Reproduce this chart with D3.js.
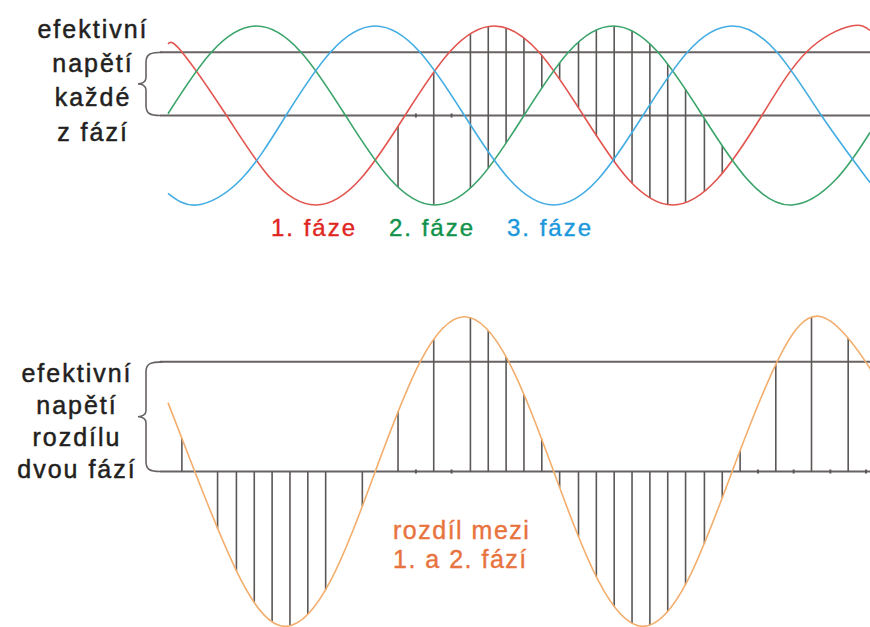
<!DOCTYPE html>
<html>
<head>
<meta charset="utf-8">
<script src="https://cdn.jsdelivr.net/npm/d3@7"></script>
<style>
  body { margin: 0; background: #fff; }
  text { font-family: "Liberation Sans", Arial, sans-serif; }
</style>
</head>
<body>
<script>
// phase angle (deg) -> voltage in units of one phase's peak
const phase1 = [[0, 0.80], [14, 0.71], [59, 0], [104, -0.71], [149, -1], [194, -0.71], [239, 0], [284, 0.71], [329, 1], [374, 0.71], [419, 0], [464, -0.71], [509, -1], [554, -0.71], [599, 0], [644, 0.71], [689, 1], [708, 0.95]];
const phase2 = [[0, 0.02], [44, 0.71], [89, 1], [134, 0.71], [179, 0], [224, -0.71], [269, -1], [314, -0.71], [359, 0], [404, 0.71], [449, 1], [494, 0.71], [539, 0], [584, -0.71], [629, -1], [674, -0.71], [708, -0.19]];
const phase3 = [[0, -0.87], [29, -1], [74, -0.71], [119, 0], [164, 0.71], [209, 1], [254, 0.71], [299, 0], [344, -0.71], [389, -1], [434, -0.71], [479, 0], [524, 0.71], [569, 1], [614, 0.71], [659, 0], [708, -0.75]];
const diff12 = [[0, 0.77], [27, 0], [74, -1.22], [119, -1.73], [164, -1.22], [209, 0], [254, 1.22], [299, 1.73], [344, 1.22], [389, 0], [434, -1.22], [479, -1.73], [524, -1.22], [569, 0], [614, 1.22], [659, 1.73], [704, 1.22], [708, 1.14]];

const rmsPhase = 0.707;
const rmsDiff = 1.225;

// hatch columns (deg)
const topHatch = [232, 268, 305, 323, 341, 359, 377, 395, 414, 432, 450, 468, 486, 504, 522, 541, 559];
const bottomHatch = [14, 50, 69, 87, 105, 123, 141, 159, 196, 232, 268, 305, 323, 341, 359, 377, 395, 414, 432, 450, 468, 486, 504, 522, 541, 559, 577, 613, 649, 686];
const stubs = [250, 286, 595, 631, 668, 704];

const phaseLabels = ["1. fáze", "2. fáze", "3. fáze"];
const phaseColors = ["#e2544e", "#3aa46a", "#43ade3"];
const labelColors = ["#e0261e", "#10924a", "#1b98dc"];
const topLabel = ["efektivní", "napětí", "každé", "z fází"];
const bottomLabel = ["efektivní", "napětí", "rozdílu", "dvou fází"];
const diffLabel = ["rozdíl mezi", "1. a 2. fází"];

var width = 870, height = 627;
var svg = d3.select("body").append("svg")
    .attr("width", width)
    .attr("height", height);

var x = d3.scaleLinear().domain([0, 708]).range([168, 870]);
var yTop = d3.scaleLinear().domain([-1, 1]).range([205, 26]);
var yBot = d3.scaleLinear().domain([-1.732, 1.732]).range([626.5, 316.5]);

var lineColor = "#676362", hatchColor = "#5b5756";

function yAtX(node, px) {
    var lo = 0, hi = node.getTotalLength();
    for (var i = 0; i < 40; i++) {
        var mid = (lo + hi) / 2;
        if (node.getPointAtLength(mid).x < px) lo = mid; else hi = mid;
    }
    return node.getPointAtLength((lo + hi) / 2).y;
}

function brace(y1, y2) {
    var ym = (y1 + y2) / 2;
    return "M163," + y1 + " C150," + y1 + " 146," + (y1 + 2) + " 146," + (y1 + 10) +
        " L146," + (ym - 6) + " C146," + (ym - 2) + " 142," + ym + " 138," + ym +
        " C142," + ym + " 146," + (ym + 2) + " 146," + (ym + 6) +
        " L146," + (y2 - 10) + " C146," + (y2 - 2) + " 150," + y2 + " 160," + y2;
}

// ---------- top panel ----------
var gTop = svg.append("g");
[0, rmsPhase].forEach(function (v) {
    gTop.append("line")
        .attr("x1", 160).attr("x2", 870)
        .attr("y1", yTop(v)).attr("y2", yTop(v))
        .attr("stroke", lineColor).attr("stroke-width", 2);
});
gTop.append("path")
    .attr("d", brace(yTop(rmsPhase), yTop(0)))
    .attr("fill", "none").attr("stroke", lineColor).attr("stroke-width", 1.6);

var lineTop = d3.line()
    .x(function (d) { return x(d[0]); })
    .y(function (d) { return yTop(d[1]); })
    .curve(d3.curveNatural);

var hatchTop = gTop.append("g");
var curves = [phase1, phase2, phase3].map(function (s, i) {
    return gTop.append("path")
        .attr("d", lineTop(s))
        .attr("fill", "none")
        .attr("stroke", phaseColors[i])
        .attr("stroke-width", 1.6)
        .node();
});

hatchTop.selectAll("line")
    .data(topHatch)
    .enter().append("line")
    .attr("x1", function (d) { return x(d); })
    .attr("x2", function (d) { return x(d); })
    .attr("y1", function (d) { return yAtX(curves[0], x(d)); })
    .attr("y2", function (d) { return yAtX(curves[1], x(d)); })
    .attr("stroke", hatchColor).attr("stroke-width", 1.6);

hatchTop.selectAll("rect")
    .data(stubs.slice(0, 2))
    .enter().append("rect")
    .attr("x", function (d) { return x(d) - 1; })
    .attr("y", yTop(0) - 2)
    .attr("width", 2).attr("height", 4)
    .attr("fill", hatchColor);

gTop.selectAll("text.lab")
    .data(topLabel)
    .enter().append("text")
    .attr("class", "lab")
    .attr("x", 93)
    .attr("y", function (d, i) { return 38 + i * 34.2; })
    .attr("text-anchor", "middle")
    .style("font-size", "25px")
    .style("letter-spacing", "2px")
    .attr("fill", "#231f20")
    .attr("stroke", "#231f20").attr("stroke-width", 0.5)
    .text(function (d) { return d; });

gTop.selectAll("text.leg")
    .data(phaseLabels)
    .enter().append("text")
    .attr("class", "leg")
    .attr("x", function (d, i) { return 271 + i * 118; })
    .attr("y", 236)
    .style("font-size", "24px")
    .style("letter-spacing", "2px")
    .attr("fill", function (d, i) { return labelColors[i]; })
    .attr("stroke", function (d, i) { return labelColors[i]; })
    .attr("stroke-width", 0.4)
    .text(function (d) { return d; });

// ---------- bottom panel ----------
var gBot = svg.append("g");
[0, rmsDiff].forEach(function (v) {
    gBot.append("line")
        .attr("x1", 160).attr("x2", 870)
        .attr("y1", yBot(v)).attr("y2", yBot(v))
        .attr("stroke", lineColor).attr("stroke-width", 2);
});
gBot.append("path")
    .attr("d", brace(yBot(rmsDiff), yBot(0)))
    .attr("fill", "none").attr("stroke", lineColor).attr("stroke-width", 1.6);

var lineBot = d3.line()
    .x(function (d) { return x(d[0]); })
    .y(function (d) { return yBot(d[1]); })
    .curve(d3.curveNatural);

var hatchBot = gBot.append("g");
var diffNode = gBot.append("path")
    .attr("d", lineBot(diff12))
    .attr("fill", "none")
    .attr("stroke", "#f3ad6c")
    .attr("stroke-width", 1.6)
    .node();

hatchBot.selectAll("line")
    .data(bottomHatch)
    .enter().append("line")
    .attr("x1", function (d) { return x(d); })
    .attr("x2", function (d) { return x(d); })
    .attr("y1", yBot(0))
    .attr("y2", function (d) { return yAtX(diffNode, x(d)); })
    .attr("stroke", hatchColor).attr("stroke-width", 1.6);

hatchBot.selectAll("rect")
    .data(stubs)
    .enter().append("rect")
    .attr("x", function (d) { return x(d) - 1; })
    .attr("y", yBot(0) - 2)
    .attr("width", 2).attr("height", 4)
    .attr("fill", hatchColor);

gBot.selectAll("text.lab")
    .data(bottomLabel)
    .enter().append("text")
    .attr("class", "lab")
    .attr("x", 77)
    .attr("y", function (d, i) { return 382 + i * 32; })
    .attr("text-anchor", "middle")
    .style("font-size", "25px")
    .style("letter-spacing", "2px")
    .attr("fill", "#231f20")
    .attr("stroke", "#231f20").attr("stroke-width", 0.5)
    .text(function (d) { return d; });

gBot.selectAll("text.diff")
    .data(diffLabel)
    .enter().append("text")
    .attr("class", "diff")
    .attr("x", 393)
    .attr("y", function (d, i) { return 539 + i * 29; })
    .style("font-size", "25px")
    .style("letter-spacing", "1.5px")
    .attr("fill", "#e8733e")
    .attr("stroke", "#e8733e").attr("stroke-width", 0.4)
    .text(function (d) { return d; });
</script>
</body>
</html>
